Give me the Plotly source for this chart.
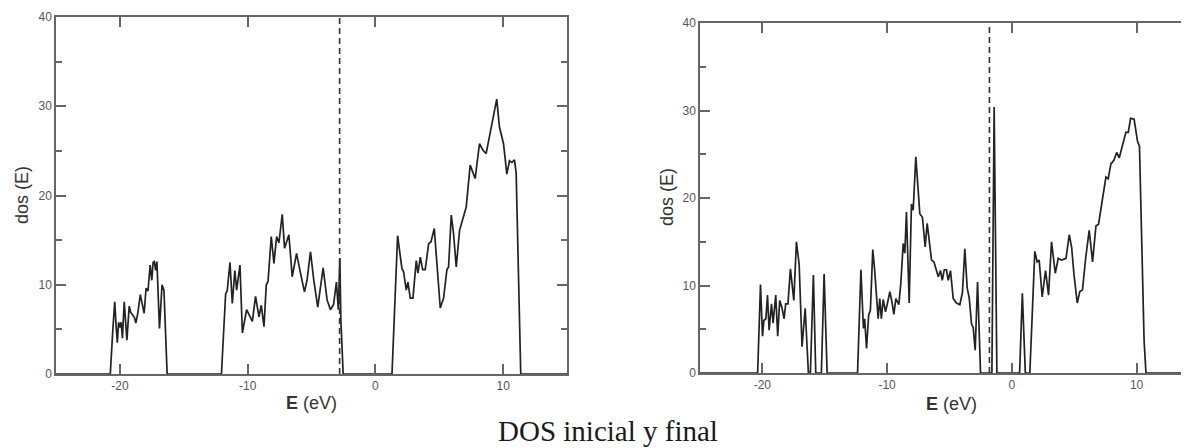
import plotly.graph_objects as go

# ---------------- data ----------------
E_ini = [-25, -21.0, -20.75, -20.55, -20.4, -20.3, -20.2, -20.1, -20.0, -19.9,
         -19.8, -19.66, -19.55, -19.45, -19.27, -19.15, -19.0, -18.85, -18.75, -18.6,
         -18.4, -18.25, -18.1, -17.95, -17.8, -17.63, -17.5, -17.4, -17.3, -17.2,
         -17.1, -16.9, -16.8, -16.7, -16.55, -16.3,
         -12.05, -11.72, -11.6, -11.38, -11.2, -11.0, -10.86, -10.6, -10.41, -10.08,
         -9.63, -9.38, -9.11, -8.93, -8.72, -8.54, -8.4, -8.15, -7.94, -7.73,
         -7.55, -7.29, -7.11, -6.77, -6.51, -6.17, -5.86, -5.55, -5.35, -5.08,
         -4.82, -4.51, -4.09, -3.78, -3.52, -3.27, -3.05, -2.9, -2.78, -2.7, -2.52,
         1.3, 1.74, 2.08, 2.2, 2.42, 2.55, 2.73, 2.94, 3.2, 3.33,
         3.52, 3.7, 3.9, 4.17, 4.35, 4.61, 4.82, 5.08, 5.34, 5.6,
         5.73, 5.94, 6.12, 6.33, 6.59, 6.85, 7.11, 7.42, 7.81, 8.15,
         8.41, 8.67, 8.98, 9.24, 9.5, 9.71, 10.03, 10.29, 10.5, 10.68,
         10.89, 11.02, 11.2, 11.38, 15]
dos_ini = [0, 0, 0, 5, 8.1, 5.5, 3.5, 5.8, 5.2, 5.8,
           4.0, 8.1, 6.0, 3.8, 7.6, 6.9, 6.6, 6.3, 5.7, 6.8,
           8.9, 8.0, 6.8, 9.6, 9.3, 12.2, 10.5, 12.5, 12.6, 11.6,
           12.6, 5.1, 7.8, 10.0, 9.4, 0,
           0, 9.0, 9.3, 12.5, 7.9, 11.6, 9.4, 12.2, 4.6, 7.2,
           5.9, 8.7, 6.4, 7.7, 5.3, 10.0, 10.4, 15.4, 12.4, 15.4,
           14.7, 17.9, 14.1, 15.6, 10.9, 13.5, 11.3, 9.2, 10.5, 13.7,
           10.5, 7.5, 11.9, 8.3, 7.2, 7.8, 10.3, 7.2, 13.0, 6.0, 0,
           0, 15.5, 11.8, 11.5, 9.4, 10.3, 8.5, 8.5, 12.7, 11.3,
           13.1, 11.7, 11.7, 14.6, 14.8, 16.3, 12.4, 7.4, 8.5, 11.7,
           12.0, 17.8, 15.7, 12.0, 16.1, 17.4, 18.7, 23.4, 21.9, 25.8,
           25.1, 24.7, 27.0, 28.6, 30.8, 27.7, 25.8, 22.4, 23.9, 23.7,
           24.0, 22.5, 11.3, 0, 0]

E_fin = [-25, -20.38, -20.15, -19.99, -19.88, -19.72, -19.59, -19.46, -19.27, -19.14,
         -18.93, -18.77, -18.61, -18.42, -18.26, -18.13, -17.95, -17.75, -17.48, -17.27,
         -17.05, -16.82, -16.57, -16.31, -16.15, -15.91, -15.72, -15.27, -15.05, -14.81,
         -12.37, -12.1, -11.9, -11.8, -11.65, -11.48, -11.34, -11.15, -11.0, -10.86,
         -10.72, -10.59, -10.46, -10.32, -10.13, -9.97, -9.78, -9.6, -9.46, -9.3,
         -9.06, -8.9, -8.71, -8.58, -8.45, -8.23, -8.05, -7.91, -7.7, -7.52,
         -7.38, -7.17, -6.95, -6.79, -6.63, -6.44, -6.25, -6.04, -5.9, -5.72,
         -5.58, -5.42, -5.24, -5.1, -4.92, -4.7, -4.44, -4.17, -3.96, -3.77,
         -3.58, -3.42, -3.23, -3.1, -2.94, -2.75, -2.51,
         -1.6, -1.42, -1.2,
         0.62, 0.84, 1.08,
         1.44, 1.84, 2.03, 2.19, 2.43, 2.7, 2.94, 3.18, 3.48, 3.72,
         3.99, 4.34, 4.6, 4.79, 4.97, 5.24, 5.45, 5.66, 5.93, 6.2,
         6.47, 6.74, 6.95, 7.2, 7.54, 7.72, 7.94, 8.18, 8.4, 8.61,
         8.88, 9.14, 9.33, 9.52, 9.8, 10.07, 10.23, 10.42, 10.6, 10.75, 15]
dos_fin = [0, 0, 10.1, 4.2, 6.0, 6.2, 8.9, 4.9, 7.9, 5.7,
           8.9, 4.2, 8.3, 7.4, 6.2, 7.9, 7.9, 11.9, 8.3, 15.0,
           12.4, 3.0, 7.4, 0, 0, 11.2, 0, 0, 11.3, 0,
           0, 11.8, 5.1, 6.2, 2.8, 6.6, 7.2, 14.1, 11.8, 9.1,
           6.2, 8.5, 6.2, 8.4, 7.0, 8.0, 9.3, 8.0, 6.7, 8.5,
           7.8, 10.3, 14.8, 13.7, 18.4, 8.0, 19.3, 18.6, 24.7, 21.1,
           18.2, 17.8, 14.4, 17.1, 15.4, 12.9, 12.7, 11.7, 11.0, 11.7,
           10.6, 11.8, 11.8, 10.6, 11.7, 8.5, 8.0, 7.8, 9.2, 14.2,
           9.7, 8.6, 5.6, 5.2, 2.6, 10.4, 0,
           0, 30.4, 0,
           0, 9.1, 0,
           0, 13.9, 12.7, 12.9, 8.7, 11.7, 8.9, 15.0, 11.4, 13.1,
           12.9, 13.1, 15.8, 14.4, 11.4, 8.0, 9.3, 9.5, 13.3, 16.3,
           12.7, 16.8, 17.0, 19.5, 22.4, 22.2, 23.9, 24.3, 25.2, 24.6,
           26.1, 27.5, 27.5, 29.1, 29.0, 26.5, 25.9, 15.8, 3.7, 0, 0]

fermi_ini = -2.8
fermi_fin = -1.8

x_ticks = [-20, -10, 0, 10]
x_ticktext = ["-20", "-10", "0", "10"]
y_ticks = [0, 10, 20, 30, 40]
y_minor = [5, 15, 25, 35]
caption = "DOS inicial y final"

# ---------------- figure ----------------
OFF = 8                      # page body margin of the html page
W, H = 1189 - OFF, 448 - OFF


def px(x):
    return (x - OFF) / W


def py(y):
    return 1 - (y - OFF) / H


AX = "#666666"
LINE = "#222222"
TICKFONT = dict(family="Liberation Sans, Arial, sans-serif", size=12, color="#555555")

fig = go.Figure()
fig.add_trace(go.Scatter(x=E_ini, y=dos_ini, mode="lines", xaxis="x", yaxis="y",
                         line=dict(color=LINE, width=1.7),
                         showlegend=False, hoverinfo="skip"))
fig.add_trace(go.Scatter(x=E_fin, y=dos_fin, mode="lines", xaxis="x2", yaxis="y2",
                         line=dict(color=LINE, width=1.7),
                         showlegend=False, hoverinfo="skip"))


def xax(domain, rng, anchor):
    return dict(domain=domain, range=rng, anchor=anchor, tickvals=x_ticks, ticktext=x_ticktext,
                ticks="inside", ticklen=10, tickwidth=1.5, tickcolor=AX,
                showline=True, linecolor=AX, linewidth=1.5, mirror="ticks",
                showgrid=False, zeroline=False, tickfont=TICKFONT, fixedrange=True,
                automargin=False)


def yax(domain, anchor, mirror):
    return dict(domain=domain, range=[0, 40], anchor=anchor, tickvals=y_ticks,
                ticks="inside", ticklen=10, tickwidth=1.5, tickcolor=AX,
                minor=dict(tickvals=y_minor, ticks="inside", ticklen=6, tickwidth=1.5, tickcolor=AX),
                showline=True, linecolor=AX, linewidth=1.5, mirror=mirror,
                showgrid=False, zeroline=False, tickfont=TICKFONT, fixedrange=True,
                automargin=False)


fig.update_layout(
    template="none",
    width=W, height=H, autosize=False,
    margin=dict(l=0, r=0, t=0, b=0, pad=0),
    paper_bgcolor="white", plot_bgcolor="white",
    xaxis=xax([px(56), px(567)], [-25, 15], "y"),
    yaxis=yax([py(374), py(17)], "x", "ticks"),
    xaxis2=xax([px(700), 1.0], [-25, 14.2], "y2"),
    yaxis2=yax([py(373), py(23)], "x2", False),
    yaxis3=dict(overlaying="y2", anchor="x2", side="right", range=[0, 40],
                tickvals=y_ticks, ticks="inside", ticklen=3, tickwidth=1.5, tickcolor=AX,
                minor=dict(tickvals=y_minor, ticks="inside", ticklen=3, tickwidth=1.5, tickcolor=AX),
                showticklabels=False, showline=False, showgrid=False, zeroline=False,
                fixedrange=True, automargin=False),
    showlegend=False,
)

# Fermi-level dashed lines
for xr, yr, xf in (("x", "y domain", fermi_ini), ("x2", "y2 domain", fermi_fin)):
    fig.add_shape(type="line", xref=xr, yref=yr, x0=xf, x1=xf, y0=0, y1=1,
                  line=dict(color="#333333", width=1.6, dash="6px,4px"))

# axis titles
TITLEFONT = dict(family="Liberation Sans, Arial, sans-serif", size=18, color="#333333")
for (xc, yc) in ((22, 195), (667, 197)):
    fig.add_annotation(text="dos (E)", x=px(xc), y=py(yc), xref="paper", yref="paper",
                       textangle=-90, showarrow=False, font=TITLEFONT,
                       xanchor="center", yanchor="middle")
for (xc, yc) in ((312, 403), (951, 404)):
    fig.add_annotation(text="<b>E</b> (eV)", x=px(xc), y=py(yc), xref="paper", yref="paper",
                       showarrow=False, font=TITLEFONT, xanchor="center", yanchor="middle")

# caption
fig.add_annotation(text=caption, x=px(608), y=py(431), xref="paper", yref="paper",
                   showarrow=False, xanchor="center", yanchor="middle",
                   font=dict(family="Liberation Serif, Times New Roman, serif", size=29, color="#1a1a1a"))

fig.write_html("out.html", config={"displayModeBar": False})
